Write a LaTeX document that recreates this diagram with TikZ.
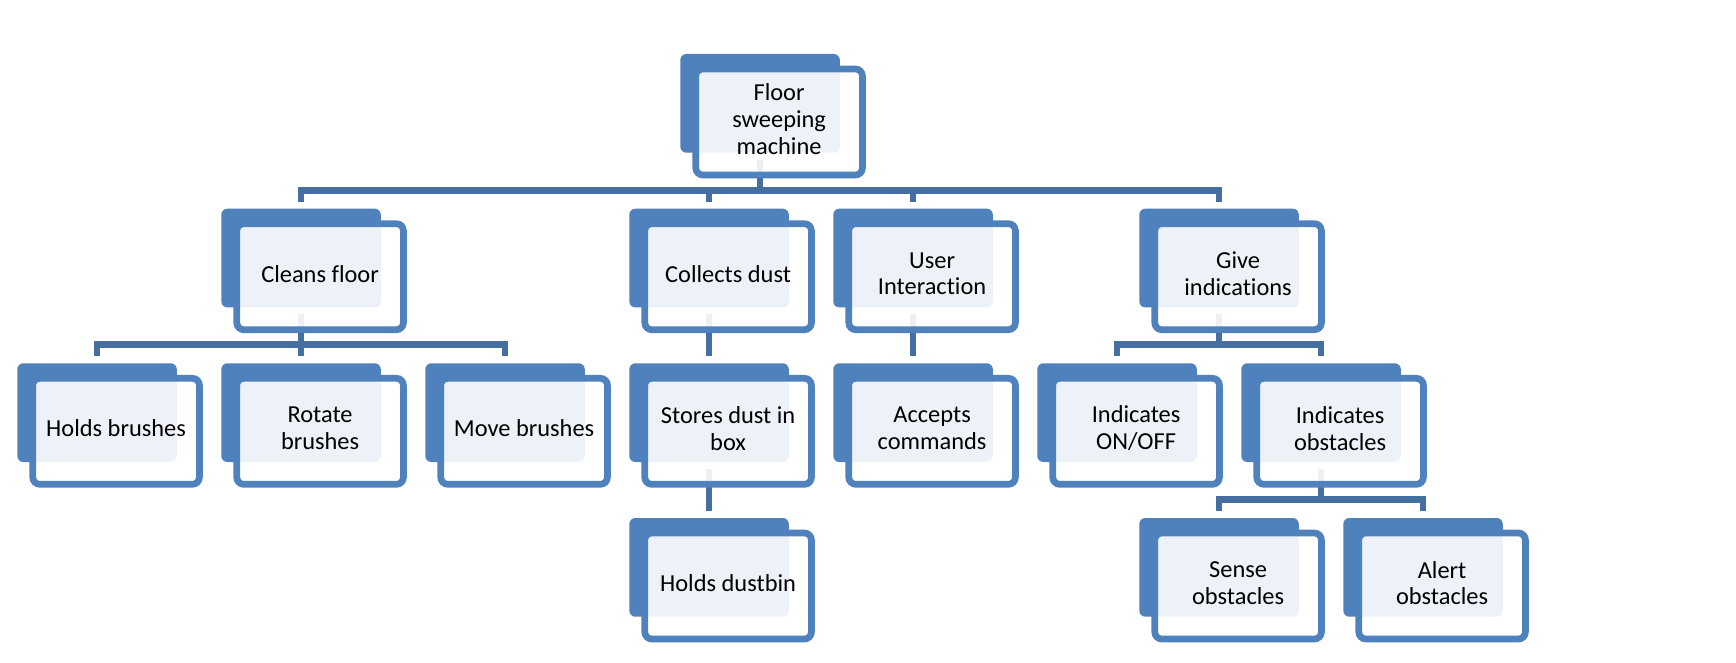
\documentclass[tikz,border=0pt]{standalone}
\usepackage{fontspec}
\setmainfont{Carlito}[RawFeature={-liga;-dlig}]
\definecolor{accent}{HTML}{4F81BD}
\definecolor{connc}{HTML}{456EA1}
\tikzset{
  back/.style={rectangle, rounded corners=6pt, fill=accent, minimum width=159.5pt,
    minimum height=98.7pt, inner sep=0pt, outer sep=0pt, anchor=north west},
  front/.style={rectangle, rounded corners=7pt, draw=accent, line width=6.7pt,
    fill=white, fill opacity=0.9, minimum width=166.6pt,
    minimum height=106pt, inner sep=0pt, outer sep=0pt, anchor=north west},
  lbl/.style={inner sep=0pt, align=center, text=black, font=\fontsize{24.4}{26.7}\selectfont},
  conn/.style={draw=connc, line width=6.8pt, line join=miter}
}
\newcommand\frontbox[2]{%
  \node[front] (#1-f) at ([xshift=15.5pt,yshift=-15pt]#1.north west) {};
  \node[lbl] (#1-t) at ([yshift=3pt]#1-f.center) {#2};}
\newcommand\linkto[2]{\draw[conn] ([yshift=-7pt]#1.south) |- ([yshift=18.5pt]#2.north) -- ([yshift=7pt]#2.north);}
\begin{document}
\begin{tikzpicture}[x=1pt,y=-1pt]
\useasboundingbox[fill=white] (0,0) rectangle (1736,663);
% back shapes
\node[back] (root) at (680.3,54) {};
\node[back] (cf) at (221.3,208.7) {};
\node[back] (cd) at (629.3,208.7) {};
\node[back] (ui) at (833.3,208.7) {};
\node[back] (gi) at (1139.3,208.7) {};
\node[back] (hb) at (17.3,363.3) {};
\node[back] (rb) at (221.3,363.3) {};
\node[back] (mb) at (425.3,363.3) {};
\node[back] (sd) at (629.3,363.3) {};
\node[back] (ac) at (833.3,363.3) {};
\node[back] (io) at (1037.3,363.3) {};
\node[back] (ib) at (1241.3,363.3) {};
\node[back] (hd) at (629.3,518) {};
\node[back] (so) at (1139.3,518) {};
\node[back] (ao) at (1343.3,518) {};
% connectors
\linkto{root}{cf}
\linkto{root}{cd}
\linkto{root}{ui}
\linkto{root}{gi}
\linkto{cf}{hb}
\linkto{cf}{rb}
\linkto{cf}{mb}
\linkto{cd}{sd}
\linkto{sd}{hd}
\linkto{ui}{ac}
\linkto{gi}{io}
\linkto{gi}{ib}
\linkto{ib}{so}
\linkto{ib}{ao}
% front shapes with text
\frontbox{root}{Floor\\sweeping\\machine}
\frontbox{cf}{Cleans floor}
\frontbox{cd}{Collects dust}
\frontbox{ui}{User\\Interaction}
\frontbox{gi}{Give\\indications}
\frontbox{hb}{Holds brushes}
\frontbox{rb}{Rotate\\brushes}
\frontbox{mb}{Move brushes}
\frontbox{sd}{Stores dust in\\box}
\frontbox{ac}{Accepts\\commands}
\frontbox{io}{Indicates\\ON/OFF}
\frontbox{ib}{Indicates\\obstacles}
\frontbox{hd}{Holds dustbin}
\frontbox{so}{Sense\\obstacles}
\frontbox{ao}{Alert\\obstacles}
\end{tikzpicture}
\end{document}
